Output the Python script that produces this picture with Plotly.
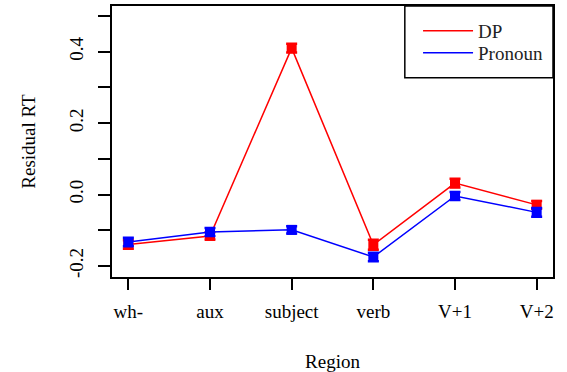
import plotly.graph_objects as go

regions = ["wh-", "aux", "subject", "verb", "V+1", "V+2"]
dp_values = [-0.140, -0.116, 0.410, -0.141, 0.032, -0.029]
dp_errors = [0.012, 0.010, 0.012, 0.014, 0.012, 0.011]
pronoun_values = [-0.133, -0.105, -0.099, -0.175, -0.004, -0.050]
pronoun_errors = [0.012, 0.011, 0.010, 0.012, 0.011, 0.012]
series_names = ["DP", "Pronoun"]
series_colors = ["#ff0000", "#0000ff"]

x_idx = list(range(len(regions)))
FONT = "Liberation Serif"
FS = 19

fig = go.Figure()
for name, vals, errs, col in [
    (series_names[0], dp_values, dp_errors, series_colors[0]),
    (series_names[1], pronoun_values, pronoun_errors, series_colors[1]),
]:
    fig.add_trace(go.Scatter(
        x=x_idx, y=vals, mode="lines+markers", name=name, showlegend=False,
        line=dict(color=col, width=1.5),
        marker=dict(symbol="square", size=10, color=col),
        error_y=dict(type="data", array=errs, visible=True, color=col,
                     thickness=2.5, width=5.5),
    ))
for name, col, lg in zip(series_names, series_colors, ["legend", "legend2"]):
    fig.add_trace(go.Scatter(
        x=[None], y=[None], mode="lines", name=name, legend=lg,
        line=dict(color=col, width=1.5),
    ))

leg_common = dict(x=0.694, xanchor="left", yanchor="top",
                  bgcolor="rgba(0,0,0,0)", borderwidth=0,
                  font=dict(family=FONT, size=FS, color="#222222"),
                  itemwidth=50)

fig.update_layout(
    width=567, height=372,
    margin=dict(l=112, r=14, t=6, b=95),
    paper_bgcolor="white", plot_bgcolor="white",
    font=dict(family=FONT, size=FS, color="black"),
    showlegend=True,
    legend=dict(y=0.978, **leg_common),
    legend2=dict(y=0.897, **leg_common),
    shapes=[dict(type="rect", xref="paper", yref="paper",
                 x0=0.664, x1=1.0, y0=0.735, y1=1.0,
                 line=dict(color="black", width=1.5), fillcolor="white",
                 layer="below")],
)

fig.update_xaxes(
    range=[-0.2, 5.2], tickmode="array", tickvals=x_idx, ticktext=regions,
    automargin=False,
    showgrid=False, zeroline=False,
    showline=True, mirror=True, linecolor="black", linewidth=1.5,
    ticks="outside", ticklen=11, tickwidth=1.5, tickcolor="black",
    ticklabelstandoff=5,
    title=dict(text="Region", standoff=35, font=dict(family=FONT, size=FS)),
)
fig.update_yaxes(
    range=[-0.231, 0.528], tickmode="array", tickvals=[-0.2, 0.0, 0.2, 0.4],
    ticktext=["-0.2", "0.0", "0.2", "0.4"], tickangle=-90,
    automargin=False,
    showgrid=False, zeroline=False,
    showline=True, mirror=True, linecolor="black", linewidth=1.5,
    ticks="outside", ticklen=12, tickwidth=1.5, tickcolor="black",
    ticklabelstandoff=8,
    minor=dict(tickvals=[-0.1, 0.1, 0.3, 0.5], ticks="outside", ticklen=12,
               tickwidth=1.5, tickcolor="black", showgrid=False),
    title=dict(text="Residual RT", standoff=25, font=dict(family=FONT, size=FS)),
)

fig.write_html(
    "out.html",
    config={"displayModeBar": False},
    post_script="document.body.style.margin='0';document.body.style.overflow='hidden';",
)
